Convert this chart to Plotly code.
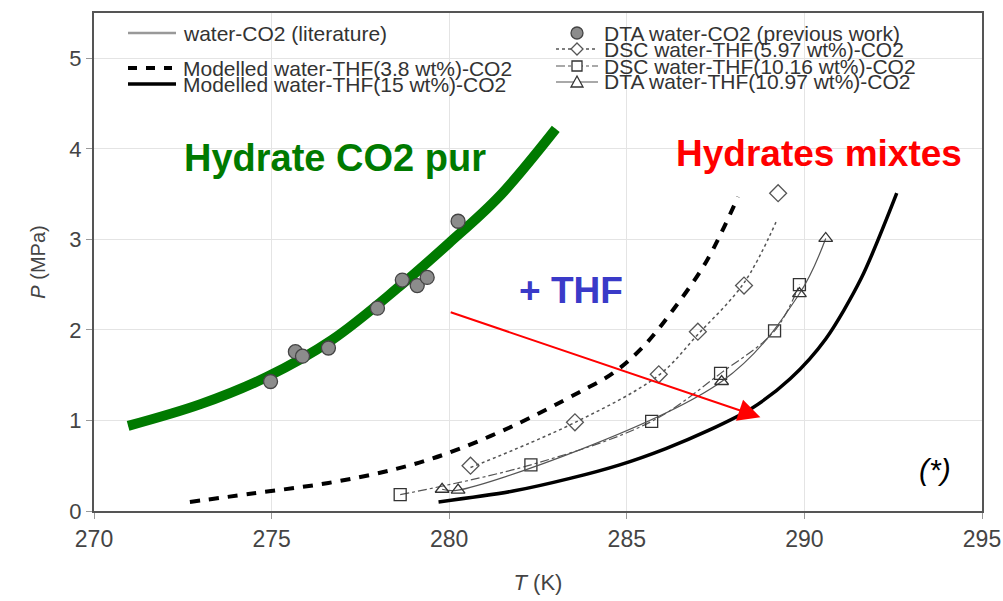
import plotly.graph_objects as go

# ---------------- data ----------------
lit_T = [270.96, 273.0, 274.86, 276.7, 278.6, 280.0, 281.4, 283.0]
lit_P = [0.94, 1.18, 1.48, 1.89, 2.48, 2.96, 3.47, 4.22]

dta_co2_T = [274.97, 275.67, 275.87, 276.6, 277.98, 278.68, 279.1, 279.38, 280.25]
dta_co2_P = [1.43, 1.76, 1.71, 1.80, 2.24, 2.55, 2.49, 2.58, 3.20]

mod38_T = [272.7, 274.4, 276.6, 278.46, 279.9, 281.8, 283.65, 284.6, 285.45, 286.3, 287.26, 288.13]
mod38_P = [0.10, 0.19, 0.31, 0.46, 0.63, 0.94, 1.31, 1.52, 1.81, 2.22, 2.77, 3.47]

mod15_T = [279.7, 281.8, 283.4, 284.8, 286.1, 287.3, 288.5, 289.6, 290.6, 291.6, 292.6]
mod15_P = [0.10, 0.22, 0.36, 0.51, 0.69, 0.89, 1.13, 1.46, 1.90, 2.57, 3.51]

dsc597_T = [280.6, 283.54, 285.9, 287.0, 288.3, 289.26]
dsc597_P = [0.50, 0.98, 1.51, 1.98, 2.49, 3.51]
fit597_T = [280.6, 283.5, 285.9, 287.0, 288.3, 289.2]
fit597_P = [0.48, 0.97, 1.50, 1.95, 2.52, 3.19]

dsc1016_T = [278.62, 282.3, 285.7, 287.64, 289.16, 289.86]
dsc1016_P = [0.18, 0.51, 0.99, 1.52, 1.99, 2.50]

dta1097_T = [279.8, 280.25, 287.67, 289.86, 290.6]
dta1097_P = [0.24, 0.23, 1.43, 2.40, 3.01]

x_ticks = [270, 275, 280, 285, 290, 295]
y_ticks = [0, 1, 2, 3, 4, 5]

legend_left = ["water-CO2 (literature)",
               "Modelled water-THF(3.8 wt%)-CO2",
               "Modelled water-THF(15 wt%)-CO2"]
legend_right = ["DTA water-CO2 (previous work)",
                "DSC water-THF(5.97 wt%)-CO2",
                "DSC water-THF(10.16 wt%)-CO2",
                "DTA water-THF(10.97 wt%)-CO2"]

# ---------------- layout geometry ----------------
W, H = 1003, 601
L, R, T, B = 94, 21, 13, 90
PW, PH = W - L - R, H - T - B


def px(x):
    return (x - L) / PW


def py(y):
    return (H - B - y) / PH


GREY = "#555555"
FONT = "Liberation Sans, Arial"
fig = go.Figure()

# literature line (grey) with the green highlight over it
fig.add_trace(go.Scatter(x=lit_T, y=lit_P, mode="lines", line=dict(color="#999999", width=2, shape="spline")))
fig.add_trace(go.Scatter(x=lit_T, y=lit_P, mode="lines", line=dict(color="#007a00", width=10, shape="spline")))

fig.add_trace(go.Scatter(x=mod38_T, y=mod38_P, mode="lines",
                         line=dict(color="black", width=4, dash="10px,9px", shape="spline")))
fig.add_trace(go.Scatter(x=mod15_T, y=mod15_P, mode="lines",
                         line=dict(color="black", width=3.5, shape="spline", smoothing=0.8)))

fig.add_trace(go.Scatter(x=fit597_T, y=fit597_P, mode="lines",
                         line=dict(color=GREY, width=1.5, dash="dot", shape="spline")))
fig.add_trace(go.Scatter(x=dsc597_T, y=dsc597_P, mode="markers",
                         marker=dict(symbol="diamond-open", size=13, color=GREY, line=dict(width=1.3, color=GREY))))

fig.add_trace(go.Scatter(x=dsc1016_T, y=dsc1016_P, mode="lines+markers",
                         line=dict(color=GREY, width=1.2, dash="dashdot", shape="spline"),
                         marker=dict(symbol="square-open", size=12, color="#333333", line=dict(width=1.3))))
fig.add_trace(go.Scatter(x=dta1097_T, y=dta1097_P, mode="lines+markers",
                         line=dict(color=GREY, width=1.2, shape="spline"),
                         marker=dict(symbol="triangle-up-open", size=12, color="#333333", line=dict(width=1.3))))

fig.add_trace(go.Scatter(x=dta_co2_T, y=dta_co2_P, mode="markers",
                         marker=dict(symbol="circle", size=14, color="#8c8c8c", line=dict(width=1.3, color="#444444"))))

fig.update_traces(showlegend=False)

# ---------------- annotations ----------------
ann = []


def label(xp, yp, text, size, color):
    ann.append(dict(x=px(xp), y=py(yp), xref="paper", yref="paper", text=text, showarrow=False,
                    xanchor="center", yanchor="middle", font=dict(family=FONT, size=size, color=color)))


label(335, 158, "<b>Hydrate CO2 pur</b>", 38, "#007a00")
label(819, 153, "<b>Hydrates mixtes</b>", 37, "#ff0000")
label(571, 290, "<b>+ THF</b>", 37, "#3a3ac8")
label(935, 469, "<i>(*)</i>", 30, "black")

# red arrow
ann.append(dict(x=288.76, y=1.035, ax=280.0, ay=2.2, xref="x", yref="y", axref="x", ayref="y",
                text="", showarrow=True, arrowhead=2, arrowsize=2.2, arrowwidth=2, arrowcolor="#ff0000"))

LEG_FONT = dict(family=FONT, size=21, color="#333333")
left_y = [33, 68, 84]
right_y = [33, 49, 66, 82]
for txt, yy in zip(legend_left, left_y):
    ann.append(dict(x=px(181), y=py(yy), xref="paper", yref="paper", text=txt, showarrow=False,
                    xanchor="left", yanchor="middle", font=LEG_FONT))
for txt, yy in zip(legend_right, right_y):
    ann.append(dict(x=px(602), y=py(yy), xref="paper", yref="paper", text=txt, showarrow=False,
                    xanchor="left", yanchor="middle", font=LEG_FONT))

shapes = []


def hline(x0, x1, y, color, width, dash="solid"):
    shapes.append(dict(type="line", xref="paper", yref="paper", x0=px(x0), x1=px(x1), y0=py(y), y1=py(y),
                       line=dict(color=color, width=width, dash=dash)))


# left legend samples
hline(128, 176, left_y[0], "#999999", 2.5)
hline(128, 172, left_y[1], "black", 4, "9px,9px")
hline(128, 176, left_y[2], "black", 3.5)
# right legend samples
cx = 577
hline(556, 598, right_y[1], GREY, 1.5, "dot")
hline(556, 598, right_y[2], GREY, 1.2, "dashdot")
hline(556, 598, right_y[3], GREY, 1.2)
r = 6
shapes.append(dict(type="circle", xref="paper", yref="paper", x0=px(cx - r), x1=px(cx + r),
                   y0=py(right_y[0] + r), y1=py(right_y[0] - r),
                   fillcolor="#8c8c8c", line=dict(color="#444444", width=1.3)))
yy = right_y[1]
shapes.append(dict(type="path", xref="paper", yref="paper",
                   path=f"M{px(cx)},{py(yy - 6)} L{px(cx + 6)},{py(yy)} L{px(cx)},{py(yy + 6)} L{px(cx - 6)},{py(yy)} Z",
                   fillcolor="white", line=dict(color=GREY, width=1.3)))
yy = right_y[2]
shapes.append(dict(type="rect", xref="paper", yref="paper", x0=px(cx - 5), x1=px(cx + 5),
                   y0=py(yy + 5), y1=py(yy - 5), fillcolor="white", line=dict(color="#333333", width=1.3)))
yy = right_y[3]
shapes.append(dict(type="path", xref="paper", yref="paper",
                   path=f"M{px(cx)},{py(yy - 6)} L{px(cx + 6)},{py(yy + 5)} L{px(cx - 6)},{py(yy + 5)} Z",
                   fillcolor="white", line=dict(color="#333333", width=1.3)))

fig.update_layout(
    width=W, height=H,
    margin=dict(l=L, r=R, t=T, b=B),
    paper_bgcolor="white", plot_bgcolor="white",
    showlegend=False,
    annotations=ann, shapes=shapes,
    xaxis=dict(range=[270, 295], tickvals=x_ticks, ticktext=[str(v) for v in x_ticks],
               automargin=False,
               showgrid=True, gridcolor="#e4e4e4", gridwidth=1, zeroline=False,
               showline=True, linecolor=GREY, linewidth=2, mirror=True,
               ticks="outside", ticklen=6, tickcolor="#999999",
               tickfont=dict(family=FONT, size=23, color="#444444"),
               title=dict(text="<i>T</i> (K)", font=dict(family=FONT, size=22, color="#444444"),
                          standoff=24)),
    yaxis=dict(range=[0, 5.5], tickvals=y_ticks, ticktext=[str(v) for v in y_ticks],
               automargin=False,
               showgrid=True, gridcolor="#e4e4e4", gridwidth=1, zeroline=False,
               showline=True, linecolor=GREY, linewidth=2, mirror=True,
               ticks="outside", ticklen=6, tickcolor="#999999",
               tickfont=dict(family=FONT, size=22, color="#444444"),
               title=dict(text="<i>P</i> (MPa)", font=dict(family=FONT, size=20, color="#444444"),
                          standoff=18)),
)

fig.write_html("out.html")
